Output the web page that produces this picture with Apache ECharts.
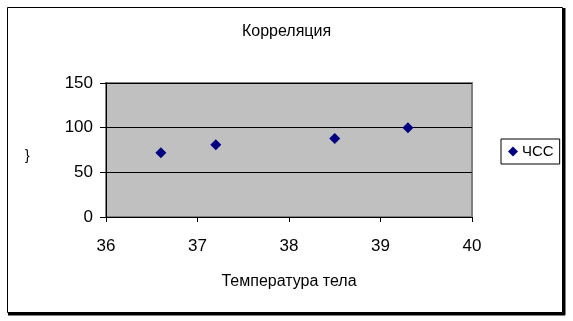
<!DOCTYPE html>
<html><head><meta charset="utf-8">
<script src="https://cdn.jsdelivr.net/npm/echarts@6/dist/echarts.min.js"></script>
<style>html,body{margin:0;padding:0;background:#fff}#c{width:573px;height:321px}</style>
</head><body><div id="c"></div>
<script>
const temperature = [36.6, 37.2, 38.5, 39.3];
const heartRate = [72, 81, 88, 100];
const seriesName = 'ЧСС';
const titleText = 'Корреляция';
const xName = 'Температура тела';

const chart = echarts.init(document.getElementById('c'), null, {renderer: 'canvas'});
const font = 'Liberation Sans, Arial, sans-serif';
chart.setOption({
  animation: false,
  backgroundColor: '#fff',
  title: {text: titleText, left: 'center', top: 19,
    textStyle: {fontFamily: font, fontSize: 16, fontWeight: 'normal', color: '#000'}},
  grid: {left: 106, top: 83, width: 366, height: 134, show: true, backgroundColor: '#C0C0C0', borderColor: '#808080', borderWidth: 2},
  xAxis: {type: 'value', min: 36, max: 40, interval: 1,
    name: xName, nameLocation: 'middle', nameGap: 57,
    nameTextStyle: {fontFamily: font, fontSize: 16, color: '#000'},
    axisLine: {show: true, onZero: false, lineStyle: {color: '#000', width: 1}},
    axisTick: {show: true, length: 5, lineStyle: {color: '#000'}},
    axisLabel: {fontFamily: font, fontSize: 17, color: '#000', margin: 21},
    splitLine: {show: false}},
  yAxis: {type: 'value', min: 0, max: 150, interval: 50,
    axisLine: {show: true, lineStyle: {color: '#000', width: 1}},
    axisTick: {show: true, length: 6, lineStyle: {color: '#000'}},
    axisLabel: {fontFamily: font, fontSize: 17, color: '#000', margin: 13},
    splitLine: {show: true, lineStyle: {color: '#000', width: 1}}},
  legend: {show: true, left: 501, top: 139, orient: 'vertical', itemWidth: 10, itemHeight: 10, itemGap: 4,
    padding: [5, 6, 5, 7], borderColor: '#000', borderWidth: 1, backgroundColor: '#fff',
    textStyle: {fontFamily: font, fontSize: 15, color: '#000', padding: [0,0,0,-1]},
    data: [{name: seriesName, icon: 'diamond'}]},
  series: [{name: seriesName, type: 'scatter', symbol: 'diamond', symbolSize: 11,
    itemStyle: {color: '#000080', opacity: 1},
    data: temperature.map((t, i) => [t, heartRate[i]])}],
  graphic: [
    {type: 'rect', shape: {x: 7.5, y: 7.5, width: 555, height: 305}, style: {fill: 'none', stroke: '#000', lineWidth: 1}, z: 100},
    {type: 'line', shape: {x1: 564, y1: 8, x2: 564, y2: 315}, style: {stroke: '#000', lineWidth: 3}, z: 100},
    {type: 'line', shape: {x1: 8, y1: 314, x2: 565, y2: 314}, style: {stroke: '#000', lineWidth: 3}, z: 100},
    {type: 'text', left: 25, top: 149, style: {text: '}', font: '14px ' + font, fill: '#000'}}
  ]
});
</script></body></html>
